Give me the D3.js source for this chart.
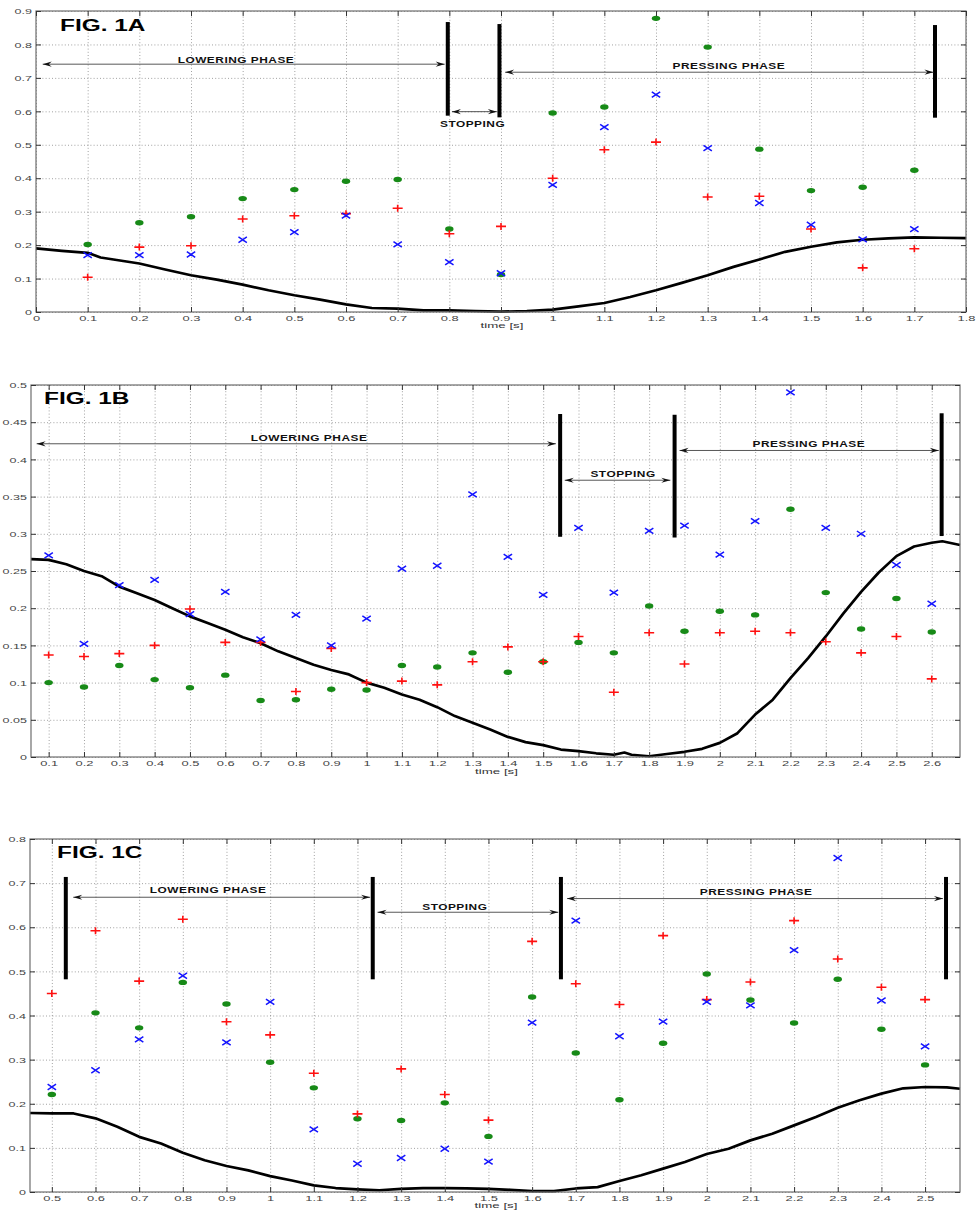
<!DOCTYPE html>
<html><head><meta charset="utf-8">
<script src="https://cdn.jsdelivr.net/npm/d3@7"></script>
<style>body{margin:0;background:#fff} svg{display:block}</style>
</head><body><svg id="c" width="976" height="1212"></svg>
<script>
// ---------------- DATA ----------------
// FIG. 1A
const tA = [0.1,0.2,0.3,0.4,0.5,0.6,0.7,0.8,0.9,1.0,1.1,1.2,1.3,1.4,1.5,1.6,1.7];
const greenA = [0.202,0.267,0.285,0.339,0.366,0.391,0.396,0.248,0.112,0.595,0.613,0.878,0.792,0.487,0.363,0.373,0.424];
const blueA  = [0.170,0.170,0.172,0.216,0.239,0.288,0.202,0.149,0.116,0.380,0.553,0.650,0.490,0.326,0.261,0.217,0.248];
const redA   = [0.104,0.194,0.198,0.278,0.288,0.294,0.310,0.234,0.256,0.400,0.485,0.508,0.344,0.346,0.248,0.132,0.189];
const curveTA = [0,0.05,0.1,0.125,0.15,0.2,0.25,0.3,0.35,0.4,0.45,0.5,0.55,0.6,0.65,0.7,0.75,0.8,0.85,0.9,0.95,1.0,1.05,1.1,1.15,1.2,1.25,1.3,1.35,1.4,1.45,1.5,1.55,1.6,1.65,1.7,1.75,1.8];
const curveVA = [0.190,0.183,0.177,0.163,0.157,0.145,0.127,0.110,0.097,0.082,0.065,0.050,0.037,0.023,0.012,0.010,0.005,0.005,0.003,0.001,0.003,0.007,0.017,0.027,0.045,0.065,0.087,0.110,0.135,0.157,0.180,0.195,0.208,0.216,0.220,0.223,0.222,0.221];

// FIG. 1B
const tB = [0.1,0.2,0.3,0.4,0.5,0.6,0.7,0.8,0.9,1.0,1.1,1.2,1.3,1.4,1.5,1.6,1.7,1.8,1.9,2.0,2.1,2.2,2.3,2.4,2.5,2.6];
const greenB = [0.100,0.094,0.123,0.104,0.093,0.110,0.076,0.077,0.091,0.090,0.123,0.121,0.140,0.114,0.128,0.154,0.140,0.203,0.169,0.196,0.191,0.333,0.221,0.172,0.213,0.168];
const blueB  = [0.271,0.152,0.231,0.238,0.192,0.222,0.158,0.191,0.150,0.186,0.253,0.257,0.353,0.269,0.218,0.308,0.221,0.304,0.311,0.272,0.317,0.490,0.308,0.300,0.258,0.206];
const redB   = [0.137,0.135,0.139,0.150,0.199,0.154,0.154,0.088,0.146,0.100,0.102,0.097,0.128,0.148,0.128,0.162,0.087,0.167,0.125,0.167,0.169,0.167,0.155,0.140,0.162,0.105];
const curveTB = [0.05,0.1,0.15,0.2,0.25,0.3,0.35,0.4,0.45,0.5,0.55,0.6,0.65,0.7,0.75,0.8,0.85,0.9,0.95,1.0,1.05,1.1,1.15,1.2,1.25,1.3,1.35,1.4,1.45,1.5,1.55,1.6,1.65,1.7,1.73,1.75,1.8,1.85,1.9,1.95,2.0,2.05,2.1,2.15,2.2,2.25,2.3,2.35,2.4,2.45,2.5,2.55,2.6,2.63,2.68];
const curveVB = [0.266,0.265,0.259,0.250,0.243,0.229,0.220,0.211,0.200,0.189,0.180,0.171,0.161,0.153,0.142,0.133,0.124,0.117,0.111,0.100,0.093,0.084,0.077,0.067,0.055,0.046,0.037,0.027,0.020,0.016,0.010,0.008,0.005,0.003,0.006,0.003,0.001,0.004,0.007,0.011,0.019,0.032,0.057,0.077,0.106,0.133,0.162,0.193,0.222,0.248,0.270,0.283,0.288,0.290,0.285];

// FIG. 1C
const tC = [0.5,0.6,0.7,0.8,0.9,1.0,1.1,1.2,1.3,1.4,1.5,1.6,1.7,1.8,1.9,2.0,2.1,2.2,2.3,2.4,2.5];
const greenC = [0.221,0.406,0.372,0.475,0.426,0.294,0.236,0.166,0.162,0.202,0.126,0.442,0.315,0.209,0.337,0.494,0.435,0.383,0.482,0.369,0.288];
const blueC  = [0.238,0.276,0.346,0.490,0.339,0.431,0.142,0.064,0.077,0.098,0.069,0.384,0.615,0.353,0.386,0.431,0.423,0.548,0.757,0.434,0.330];
const redC   = [0.450,0.592,0.478,0.618,0.386,0.356,0.269,0.177,0.279,0.221,0.163,0.568,0.472,0.425,0.581,0.436,0.476,0.615,0.528,0.464,0.436];
const curveTC = [0.45,0.5,0.55,0.6,0.65,0.7,0.75,0.8,0.85,0.9,0.95,1.0,1.05,1.1,1.15,1.2,1.25,1.3,1.35,1.4,1.45,1.5,1.55,1.6,1.65,1.7,1.75,1.8,1.85,1.9,1.95,2.0,2.05,2.1,2.15,2.2,2.25,2.3,2.35,2.4,2.45,2.5,2.55,2.58];
const curveVC = [0.179,0.178,0.178,0.167,0.148,0.125,0.110,0.089,0.072,0.059,0.049,0.036,0.026,0.015,0.009,0.006,0.004,0.007,0.009,0.009,0.008,0.007,0.005,0.002,0.002,0.008,0.011,0.025,0.038,0.053,0.068,0.086,0.098,0.117,0.132,0.151,0.170,0.191,0.208,0.223,0.235,0.238,0.237,0.234];

// tick labels
const xTicksA = d3.range(0, 19).map(i => i / 10);
const yTicksA = d3.range(0, 10).map(i => i / 10);
const xTicksB = d3.range(1, 27).map(i => i / 10);
const yTicksB = d3.range(0, 11).map(i => i / 20);
const xTicksC = d3.range(5, 26).map(i => i / 10);
const yTicksC = d3.range(0, 9).map(i => i / 10);

const figTitles = ["FIG. 1A", "FIG. 1B", "FIG. 1C"];
const phaseNames = ["LOWERING PHASE", "STOPPING", "PRESSING PHASE"];

// ---------------- DRAW ----------------
const svg = d3.select("#c");
const fmt = d => String(+d.toFixed(2));

const panels = [
  {title: figTitles[0], left: 36, right: 966, top: 11, bottom: 312, xd: [0, 1.8], yd: [0, 0.9],
   xt: xTicksA, yt: yTicksA, t: tA, g: greenA, b: blueA, r: redA, ct: curveTA, cv: curveVA,
   titlePos: [60, 31], timeY: 328,
   bars: [[0.797, 0.587, 0.867], [0.897, 0.582, 0.861], [1.740, 0.581, 0.858]],
   arrows: [[0.013, 0.791, 0.741], [0.805, 0.892, 0.599], [0.908, 1.737, 0.717]],
   labels: [[0.387, 0.746], [0.845, 0.552], [1.341, 0.727]]},
  {title: figTitles[1], left: 31, right: 960, top: 385, bottom: 757, xd: [0.05, 2.68], yd: [0, 0.5],
   xt: xTicksB, yt: yTicksB, t: tB, g: greenB, b: blueB, r: redB, ct: curveTB, cv: curveVB,
   titlePos: [44, 404], timeY: 774,
   bars: [[1.548, 0.296, 0.461], [1.872, 0.295, 0.460], [2.628, 0.297, 0.462]],
   arrows: [[0.066, 1.536, 0.421], [1.561, 1.860, 0.372], [1.886, 2.620, 0.412]],
   labels: [[0.837, 0.425], [1.726, 0.376], [2.252, 0.417]]},
  {title: figTitles[2], left: 30, right: 960, top: 839, bottom: 1192, xd: [0.45, 2.58], yd: [0, 0.8],
   xt: xTicksC, yt: yTicksC, t: tC, g: greenC, b: blueC, r: redC, ct: curveTC, cv: curveVC,
   titlePos: [57, 858], timeY: 1208,
   bars: [[0.532, 0.482, 0.714], [1.235, 0.482, 0.714], [1.666, 0.482, 0.714], [2.548, 0.482, 0.714]],
   arrows: [[0.549, 1.229, 0.668], [1.246, 1.660, 0.634], [1.680, 2.541, 0.665]],
   labels: [[0.858, 0.677], [1.423, 0.640], [2.113, 0.674]]}
];

function drawPanel(p) {
  const x = d3.scaleLinear().domain(p.xd).range([p.left, p.right]);
  const y = d3.scaleLinear().domain(p.yd).range([p.bottom, p.top]);
  const g = svg.append("g");
  const H = p.bottom - p.top, W = p.right - p.left;

  // grid
  const gx = g.append("g").attr("transform", `translate(0,${p.bottom})`)
    .call(d3.axisBottom(x).tickValues(p.xt).tickSize(-H).tickFormat(""));
  const gy = g.append("g").attr("transform", `translate(${p.left},0)`)
    .call(d3.axisLeft(y).tickValues(p.yt).tickSize(-W).tickFormat(""));
  [gx, gy].forEach(a => {
    a.select(".domain").remove();
    a.selectAll("line").attr("stroke", "#8a8a8a").attr("stroke-width", 0.8).attr("stroke-dasharray", "1,2.2");
  });

  // curve
  const pts = p.ct.map((t, i) => [t, p.cv[i]]);
  g.append("path").datum(pts)
    .attr("d", d3.line().x(d => x(d[0])).y(d => y(d[1])))
    .attr("fill", "none").attr("stroke", "#000").attr("stroke-width", 2.7).attr("stroke-linejoin", "round");

  // markers: green dots
  g.append("g").selectAll("ellipse").data(p.t.map((t, i) => [t, p.g[i]])).join("ellipse")
    .attr("cx", d => x(d[0])).attr("cy", d => y(d[1])).attr("rx", 4.2).attr("ry", 2.7)
    .attr("fill", "#178a17");
  // red +
  g.append("g").selectAll("path").data(p.t.map((t, i) => [t, p.r[i]])).join("path")
    .attr("d", d => { const cx = x(d[0]), cy = y(d[1]); return `M${cx-5},${cy}H${cx+5}M${cx},${cy-3.5}V${cy+3.5}`; })
    .attr("stroke", "#ff1010").attr("stroke-width", 1.6).attr("fill", "none");
  // blue x
  g.append("g").selectAll("path").data(p.t.map((t, i) => [t, p.b[i]])).join("path")
    .attr("d", d => { const cx = x(d[0]), cy = y(d[1]); return `M${cx-4.2},${cy-2.8}L${cx+4.2},${cy+2.8}M${cx-4.2},${cy+2.8}L${cx+4.2},${cy-2.8}`; })
    .attr("stroke", "#1414ff").attr("stroke-width", 1.5).attr("fill", "none");

  // phase bars
  g.append("g").selectAll("line").data(p.bars).join("line")
    .attr("x1", d => x(d[0])).attr("x2", d => x(d[0]))
    .attr("y1", d => y(d[1])).attr("y2", d => y(d[2]))
    .attr("stroke", "#000").attr("stroke-width", 4);

  // arrows
  const ag = g.append("g");
  p.arrows.forEach(a => {
    const x1 = x(a[0]), x2 = x(a[1]), yy = y(a[2]);
    ag.append("line").attr("x1", x1).attr("x2", x2).attr("y1", yy).attr("y2", yy)
      .attr("stroke", "#444").attr("stroke-width", 0.9);
    ag.append("path").attr("d", `M${x1},${yy}L${x1+9},${yy-2.6}L${x1+6},${yy}L${x1+9},${yy+2.6}Z`).attr("fill", "#111");
    ag.append("path").attr("d", `M${x2},${yy}L${x2-9},${yy-2.6}L${x2-6},${yy}L${x2-9},${yy+2.6}Z`).attr("fill", "#111");
  });

  // phase labels
  p.labels.forEach((l, i) => {
    g.append("text").attr("transform", `translate(${x(l[0])},${y(l[1])}) scale(1.45,1)`)
      .attr("text-anchor", "middle").attr("font-family", "Liberation Sans, Arial, sans-serif")
      .attr("font-weight", "bold").attr("font-size", 8.2).attr("letter-spacing", 0.35)
      .attr("fill", "#111").text(phaseNames[i]);
  });

  // box
  g.append("rect").attr("x", p.left).attr("y", p.top).attr("width", W).attr("height", H)
    .attr("fill", "none").attr("stroke", "#6e6e6e").attr("stroke-width", 1.2);

  // ticks (inward) + labels
  const ab = g.append("g").attr("transform", `translate(0,${p.bottom})`)
    .call(d3.axisBottom(x).tickValues(p.xt).tickSize(-5).tickFormat(fmt));
  const at = g.append("g").attr("transform", `translate(0,${p.top})`)
    .call(d3.axisTop(x).tickValues(p.xt).tickSize(-5).tickFormat(""));
  const al = g.append("g").attr("transform", `translate(${p.left},0)`)
    .call(d3.axisLeft(y).tickValues(p.yt).tickSize(-5).tickFormat(fmt));
  const ar = g.append("g").attr("transform", `translate(${p.right},0)`)
    .call(d3.axisRight(y).tickValues(p.yt).tickSize(-5).tickFormat(""));
  [ab, at, al, ar].forEach(a => {
    a.select(".domain").remove();
    a.selectAll("line").attr("stroke", "#333").attr("stroke-width", 1);
    a.selectAll("text").attr("font-family", "Liberation Sans, Arial, sans-serif")
      .attr("font-size", 7.6).attr("fill", "#444");
  });
  ab.selectAll("text").attr("y", null).attr("dy", null)
    .attr("transform", "translate(0,8.5) scale(1.7,1)").attr("text-anchor", "middle");
  al.selectAll("text").attr("x", null).attr("dy", null)
    .attr("transform", "translate(-4,2.7) scale(1.65,1)").attr("text-anchor", "end");

  // x label
  g.append("text").attr("transform", `translate(${(p.left + p.right) / 2 + 1},${p.timeY}) scale(1.75,1)`)
    .attr("text-anchor", "middle").attr("font-family", "Liberation Sans, Arial, sans-serif")
    .attr("font-size", 7.6).attr("fill", "#333").text("time [s]");

  // figure title
  g.append("text").attr("transform", `translate(${p.titlePos[0]},${p.titlePos[1]}) scale(1.48,1)`)
    .attr("font-family", "Liberation Sans, Arial, sans-serif").attr("font-weight", "bold")
    .attr("font-size", 16.5).attr("fill", "#000").text(p.title);
}

panels.forEach(drawPanel);
</script></body></html>
